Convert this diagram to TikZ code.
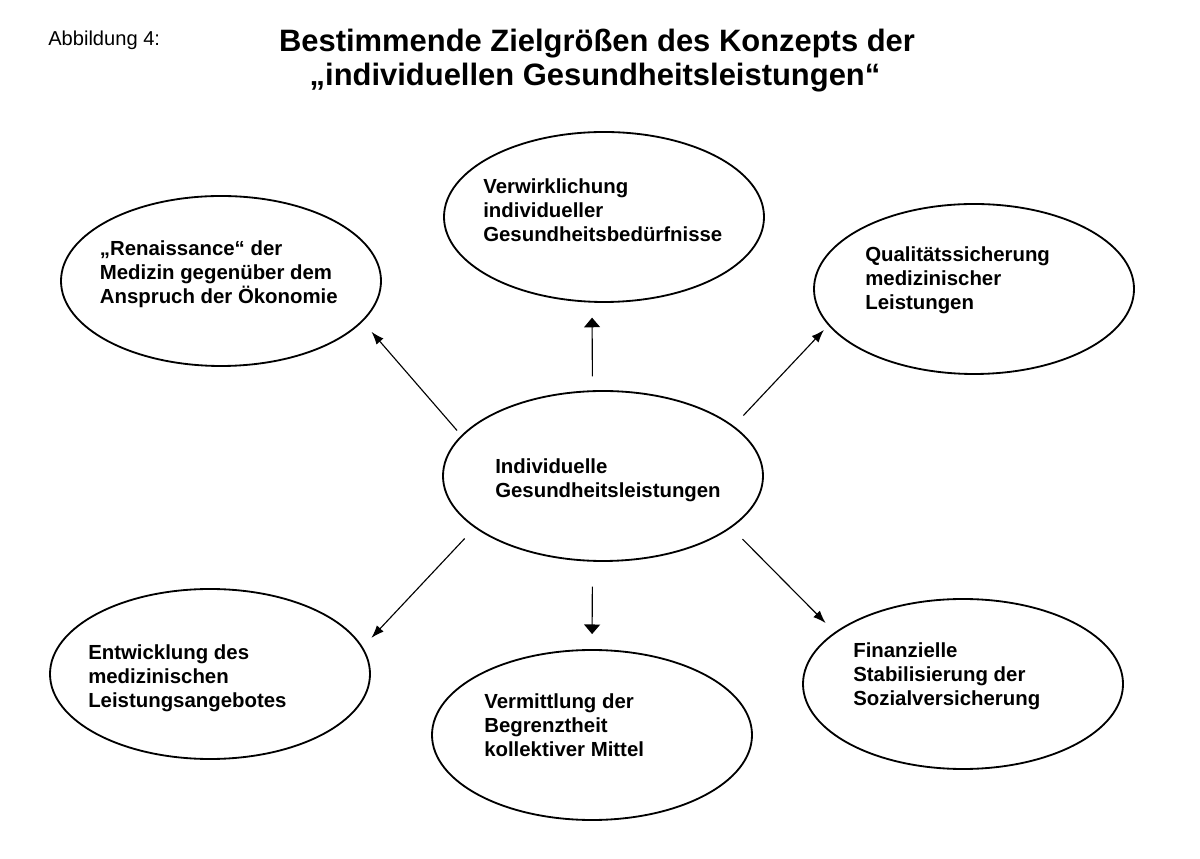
\documentclass[tikz,border=0pt]{standalone}
\usepackage{fontspec}
\setmainfont{Liberation Sans}
\usetikzlibrary{arrows.meta,shapes.geometric}

\tikzset{
  ziel/.style={draw, ellipse, line width=1.3pt, minimum width=8cm, minimum height=4.25cm, inner sep=0pt},
  zieltext/.style={anchor=west, align=left, inner sep=0pt, font=\fontsize{14.5}{17}\selectfont\bfseries},
  pfeil/.style={line width=0.8pt, -{Latex[length=3.2mm,width=2.3mm]}},
  pfeilgerade/.style={line width=0.8pt, -{Triangle[length=2.4mm,width=4mm]}}
}

\begin{document}
\begin{tikzpicture}
        \useasboundingbox (0,0) rectangle (30,21.45);
        % Kopf
        \node[anchor=base west, inner sep=0pt, font=\fontsize{14.3}{17}\selectfont] (abb) at (1.2,20.3) {Abbildung 4:};
        \node[anchor=base, inner sep=0pt, font=\fontsize{22}{24}\selectfont\bfseries] (titel1) at (14.925,20.15) {Bestimmende Zielgrößen des Konzepts der};
        \node[anchor=base, inner sep=0pt, font=\fontsize{22}{24}\selectfont\bfseries] (titel2) at (14.875,19.3) {„individuellen Gesundheitsleistungen“};
        % Ellipsen
        \node[ziel] (mitte) at (15.075,9.55) {};
        \node[ziel] (oben) at (15.1,16.025) {};
        \node[ziel] (linksoben) at (5.525,14.425) {};
        \node[ziel] (rechtsoben) at (24.35,14.225) {};
        \node[ziel] (linksunten) at (5.25,4.6) {};
        \node[ziel] (unten) at (14.8,3.075) {};
        \node[ziel] (rechtsunten) at (24.075,4.35) {};
        % Texte
        \node[zieltext] (mittetext) at (12.375,9.44) {Individuelle\\Gesundheitsleistungen};
        \node[zieltext] (obentext) at (12.075,16.2) {Verwirklichung\\individueller\\Gesundheitsbedürfnisse};
        \node[zieltext] (linksobentext) at (2.49,14.6) {„Renaissance“ der\\Medizin gegenüber dem\\Anspruch der Ökonomie};
        \node[zieltext] (rechtsobentext) at (21.625,14.45) {Qualitätssicherung\\medizinischer\\Leistungen};
        \node[zieltext] (linksuntentext) at (2.2,4.5) {Entwicklung des\\medizinischen\\Leistungsangebotes};
        \node[zieltext] (untentext) at (12.1,3.325) {Vermittlung der\\Begrenztheit\\kollektiver Mittel};
        \node[zieltext] (rechtsuntentext) at (21.325,4.55) {Finanzielle\\Stabilisierung der\\Sozialversicherung};
        % Pfeile
        \draw[pfeilgerade, shorten <=0.35cm, shorten >=0.375cm] (mitte.97.4) -- (oben.-98);
        \draw[pfeil, shorten <=0.16cm, shorten >=0.335cm] (mitte.164.6) -- (linksoben.-16.3);
        \draw[pfeil, shorten <=0.355cm, shorten >=0.155cm] (mitte.21.7) -- (rechtsoben.194.7);
        \draw[pfeil, shorten <=0.365cm, shorten >=0.315cm] (mitte.202.7) -- (linksunten.10.5);
        \draw[pfeilgerade, shorten <=0.625cm, shorten >=0.375cm] (mitte.-97.4) -- (unten.north);
        \draw[pfeil, shorten <=0.395cm, shorten >=0.32cm] (mitte.-22.2) -- (rechtsunten.158.3);
    \end{tikzpicture}
\end{document}
